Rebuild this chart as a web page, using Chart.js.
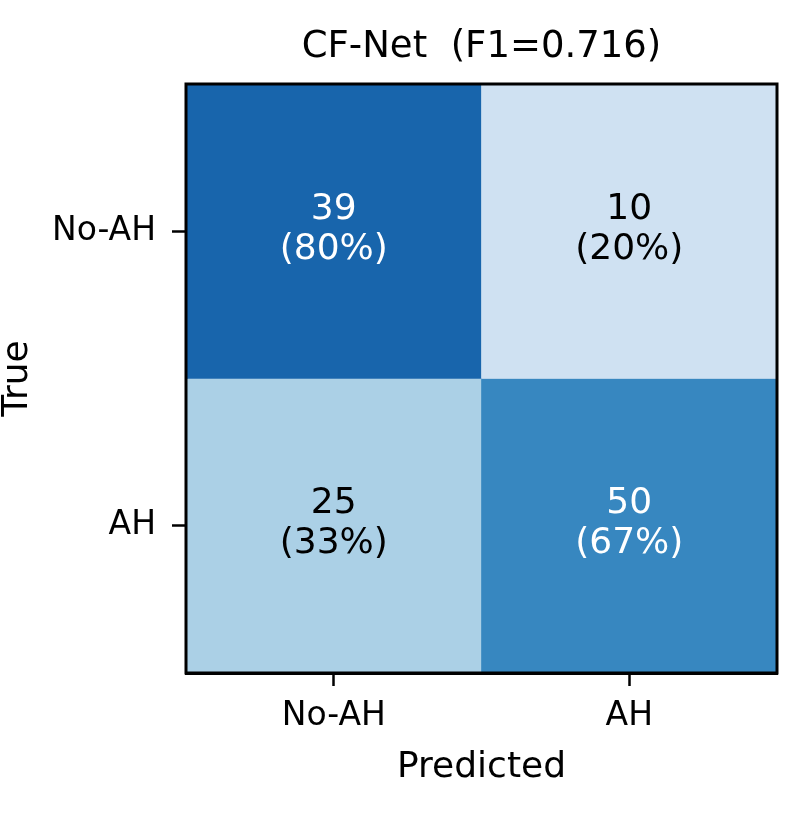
<!DOCTYPE html>
<html>
<head>
<meta charset="utf-8">
<script src="https://cdn.jsdelivr.net/npm/chart.js@4.4.1/dist/chart.umd.min.js"></script>
<style>
  html, body { margin: 0; padding: 0; background: #ffffff; }
  #wrap { width: 806px; height: 818px; }
</style>
</head>
<body>
<div id="wrap"><canvas id="c" width="806" height="818"></canvas></div>
<script>
// ---- data ----
const categories = ['No-AH', 'AH'];          // class names (true rows / predicted columns)
const rowNoAH = [39, 10];                    // true No-AH: predicted No-AH, AH
const rowAH = [25, 50];                      // true AH: predicted No-AH, AH
const chartTitle = 'CF-Net  (F1=0.716)';
const xTitle = 'Predicted';
const yTitle = 'True';

const rows = [rowNoAH, rowAH];

// Matplotlib "Blues" colormap stops
const bluesStops = ['#f7fbff','#deebf7','#c6dbef','#9ecae1','#6baed6','#4292c6','#2171b5','#08519c','#08306b'];
function hex2rgb(h){ return [parseInt(h.slice(1,3),16),parseInt(h.slice(3,5),16),parseInt(h.slice(5,7),16)]; }
function blues(t){
  t = Math.max(0, Math.min(1, t));
  const n = bluesStops.length - 1;
  const p = t * n, i = Math.min(Math.floor(p), n - 1), f = p - i;
  const a = hex2rgb(bluesStops[i]), b = hex2rgb(bluesStops[i+1]);
  const c = a.map((v,k)=>Math.round(v + (b[k]-v)*f));
  return `rgb(${c[0]},${c[1]},${c[2]})`;
}
const norm = rows.map(r => { const s = r.reduce((a,b)=>a+b,0); return r.map(v => v / s); });

const FONT = "'DejaVu Sans', 'Liberation Sans', sans-serif";

const datasets = rows.map((r, i) => ({
  label: categories[i],
  data: r.map(() => [i, i + 1]),
  backgroundColor: norm[i].map(v => blues(v)),
  borderWidth: 0,
  barPercentage: 1.0,
  categoryPercentage: 1.0,
  grouped: false
}));

const cellText = {
  id: 'cellText',
  afterDatasetsDraw(chart) {
    const ctx = chart.ctx;
    const xs = chart.scales.x, ys = chart.scales.y;
    ctx.save();
    ctx.textAlign = 'center';
    ctx.textBaseline = 'middle';
    ctx.font = `36px ${FONT}`;
    rows.forEach((r, i) => {
      r.forEach((v, j) => {
        const x = xs.getPixelForValue(j);
        const y = ys.getPixelForValue(i + 0.5);
        const pct = Math.round(norm[i][j] * 100);
        ctx.fillStyle = norm[i][j] > 0.5 ? '#ffffff' : '#000000';
        ctx.fillText(String(v), x, y - 22);
        ctx.fillText(`(${pct}%)`, x, y + 18);
      });
    });
    ctx.restore();
  }
};

const frame = {
  id: 'frame',
  afterDraw(chart) {
    const a = chart.chartArea, ctx = chart.ctx;
    ctx.save();
    ctx.strokeStyle = '#000000';
    ctx.lineWidth = 3;
    ctx.strokeRect(a.left, a.top, a.right - a.left, a.bottom - a.top);
    ctx.restore();
  }
};

new Chart(document.getElementById('c'), {
  type: 'bar',
  data: { labels: categories, datasets },
  plugins: [cellText, frame],
  options: {
    responsive: false,
    animation: false,
    layout: { padding: { left: 0, right: 29, top: 0, bottom: 0 } },
    plugins: {
      legend: { display: false },
      tooltip: { enabled: false },
      title: {
        display: true,
        text: chartTitle,
        fullSize: false,
        color: '#000000',
        font: { family: FONT, size: 37, weight: 'normal', lineHeight: 1 },
        padding: { top: 29, bottom: 18 }
      }
    },
    scales: {
      x: {
        type: 'category',
        offset: true,
        grid: { display: true, drawOnChartArea: false, drawTicks: true, tickLength: 13, tickWidth: 2.5, tickColor: '#000', offset: false },
        border: { display: true, color: '#000', width: 3 },
        ticks: { color: '#000', padding: 11, font: { family: FONT, size: 33 }, maxRotation: 0 },
        title: { display: true, text: xTitle, color: '#000', font: { family: FONT, size: 36, lineHeight: 1 }, padding: { top: 0, bottom: 32 } },
        afterFit(scale) { scale.height = 145; }
      },
      y: {
        type: 'linear',
        min: 0, max: 2,
        reverse: true,
        stacked: false,
        grid: { display: true, drawOnChartArea: false, drawTicks: true, tickLength: 14, tickWidth: 2.5, tickColor: '#000' },
        border: { display: true, color: '#000', width: 3 },
        afterBuildTicks(scale) { scale.ticks = categories.map((c, i) => ({ value: i + 0.5 })); },
        ticks: {
          color: '#000', padding: 16, font: { family: FONT, size: 33 },
          callback: (v) => categories[Math.round(v - 0.5)]
        },
        title: { display: true, text: yTitle, color: '#000', font: { family: FONT, size: 36, lineHeight: 1 }, padding: { top: 0, bottom: 0 } },
        afterFit(scale) { scale.width = 186; }
      }
    }
  }
});
</script>
</body>
</html>
